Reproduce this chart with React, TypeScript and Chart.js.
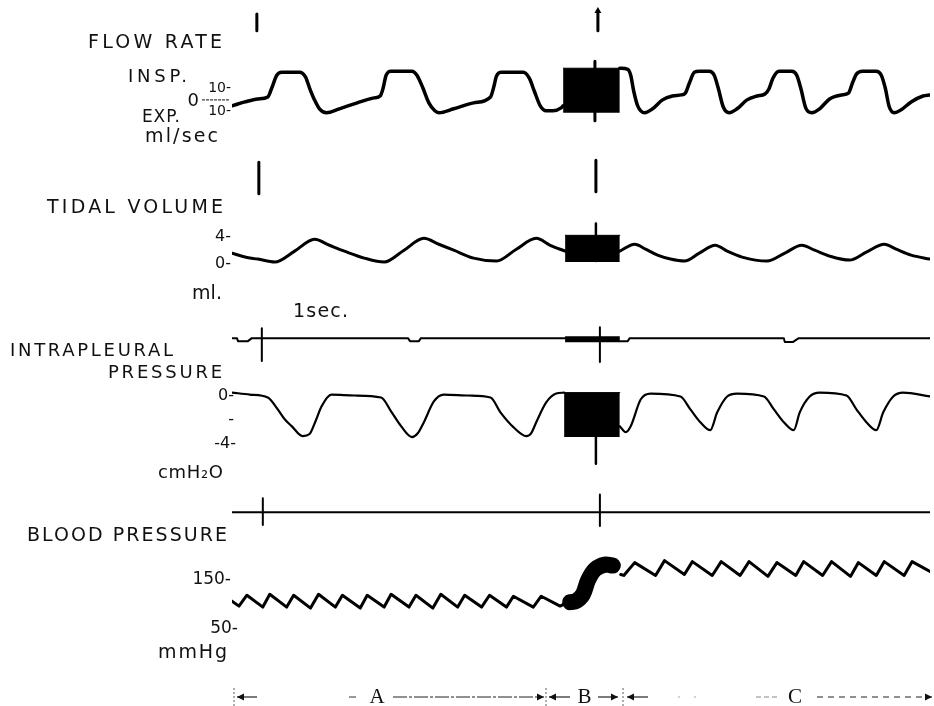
import React, { useEffect, useRef } from 'react';
import { Chart, registerables } from 'chart.js';

Chart.register(...registerables);

type P = [number, number];
type Mark = [number, number, number]; // time, top value, bottom value

// time axis: seconds from start of record
const timeStart = 0;
const timeEnd = 7.02;

// ---------- FLOW RATE (ml/sec, + = inspiration) ----------
const flowPhaseA: P[] = [
  [0.00, -5.0], [0.13, -1.7], [0.26, 0.8], [0.36, 2.5], [0.40, 10.0], [0.45, 20.8], [0.50, 23.3],
  [0.68, 23.3], [0.74, 19.2], [0.78, 10.0], [0.83, 0], [0.88, -7.5], [0.95, -10.8], [1.08, -7.5],
  [1.26, -2.5], [1.43, 1.7], [1.49, 3.3], [1.52, 10.0], [1.55, 20.8], [1.60, 24.2], [1.81, 24.2],
  [1.86, 20.8], [1.92, 10.0], [1.98, -2.5], [2.04, -9.2], [2.08, -10.8], [2.23, -7.5], [2.43, -2.5],
  [2.60, 2.5], [2.63, 10.0], [2.66, 20.0], [2.71, 23.3], [2.93, 23.3], [2.99, 18.3], [3.04, 7.5],
  [3.10, -5.0], [3.16, -9.2], [3.23, -9.2], [3.31, -6.7], [3.33, -5.0],
];
const flowBurst: P[] = [[3.33, 26.7], [3.90, 26.7]];
const flowBurstFloor = -10.8;
const flowPhaseC: P[] = [
  [3.90, 26.7], [3.98, 25.8], [4.01, 20.8], [4.04, 7.5], [4.08, -5.0], [4.15, -10.8], [4.23, -7.5],
  [4.33, 0], [4.43, 3.3], [4.52, 4.2], [4.56, 5.8], [4.60, 14.2], [4.65, 23.3], [4.70, 24.2],
  [4.80, 24.2], [4.85, 20.8], [4.89, 10.0], [4.94, -5.8], [5.00, -10.8], [5.08, -7.5], [5.18, 0],
  [5.28, 3.3], [5.36, 5.0], [5.40, 9.2], [5.44, 18.3], [5.50, 24.2], [5.63, 24.2], [5.68, 20.8],
  [5.72, 10.0], [5.77, -6.7], [5.83, -10.8], [5.91, -7.5], [6.01, 0.8], [6.13, 4.2], [6.20, 5.8],
  [6.24, 14.2], [6.28, 21.7], [6.34, 24.2], [6.48, 24.2], [6.53, 20.8], [6.57, 10.0], [6.61, -5.8],
  [6.66, -10.8], [6.73, -8.3], [6.83, -1.7], [6.95, 3.3], [7.02, 4.2],
];
const flowTickValues = [10, -10];
const flowTickLabels = ['10-', '10-'];
const flowMarks: Mark[] = [
  [0.25, 72.5, 58.3], [3.68, 75.0, 58.3], [3.65, 32.5, -17.5], [0.27, -52.5, -79.2], [3.66, -50.8, -77.5],
];
const flowArrowHead: P[] = [[3.68, 75.0]];

// ---------- TIDAL VOLUME (ml) ----------
const volumePhaseA: P[] = [
  [0.00, 1.63], [0.13, 1.04], [0.26, 0.74], [0.43, 0.30], [0.63, 1.93], [0.83, 3.70], [0.98, 2.81],
  [1.13, 1.93], [1.33, 0.89], [1.53, 0.30], [1.73, 2.07], [1.93, 3.85], [2.08, 2.96], [2.23, 2.07],
  [2.43, 0.89], [2.66, 0.44], [2.86, 2.22], [3.06, 3.85], [3.20, 2.81], [3.35, 1.93],
];
const volumeBurst: P[] = [[3.35, 4.3], [3.90, 4.3]];
const volumeBurstFloor = 0.3;
const volumePhaseC: P[] = [
  [3.90, 1.93], [4.05, 2.96], [4.16, 2.22], [4.28, 1.33], [4.41, 0.74], [4.55, 0.44], [4.70, 1.63],
  [4.86, 2.81], [4.98, 1.93], [5.13, 1.04], [5.38, 0.44], [5.56, 1.63], [5.73, 2.81], [5.86, 2.07],
  [6.01, 1.19], [6.21, 0.59], [6.38, 1.78], [6.56, 2.96], [6.68, 2.22], [6.83, 1.33], [7.02, 0.74],
];
const volumeTickValues = [4, 0];
const volumeTickLabels = ['4-', '0-'];
const volumeMarks: Mark[] = [[3.66, 6.07, 0.44]];

// ---------- TIME BASE (signal line, arbitrary units) ----------
const timeLineA: P[] = [
  [0.00, 0], [0.05, 0], [0.06, -3], [0.16, -3], [0.20, 0], [1.77, 0], [1.79, -3], [1.88, -3], [1.90, 0], [3.35, 0],
];
const timeBurst: P[] = [[3.35, -1], [3.90, -1]];
const timeLineC: P[] = [
  [3.90, -3], [3.98, -3], [4.00, 0], [5.55, 0], [5.56, -4], [5.64, -4], [5.70, 0], [7.02, 0],
];
const timeMarks: Mark[] = [[0.30, 10, -23], [3.70, 11, -24]];

// ---------- INTRAPLEURAL PRESSURE (cmH2O) ----------
const pleuralPhaseA: P[] = [
  [0.00, 0.24], [0.18, 0.08], [0.36, -0.16], [0.46, -1.14], [0.53, -1.96], [0.60, -2.53], [0.71, -3.35],
  [0.78, -3.18], [0.84, -2.12], [0.90, -0.90], [1.00, 0.08], [1.23, 0], [1.50, -0.16], [1.60, -1.31],
  [1.70, -2.53], [1.81, -3.43], [1.87, -3.10], [1.93, -2.20], [2.03, -0.49], [2.13, 0.08], [2.38, 0],
  [2.60, -0.16], [2.70, -1.39], [2.83, -2.61], [2.96, -3.35], [3.01, -3.10], [3.06, -2.20], [3.16, -0.57],
  [3.26, 0.16], [3.34, 0.24],
];
const pleuralBurst: P[] = [[3.34, 0.24], [3.90, 0.24]];
const pleuralBurstFloor = -3.43;
const pleuralPhaseC: P[] = [
  [3.90, -2.53], [3.96, -3.02], [4.01, -2.53], [4.11, -0.33], [4.21, 0.16], [4.51, -0.08], [4.61, -1.14],
  [4.71, -2.20], [4.81, -2.86], [4.88, -1.39], [4.98, -0.08], [5.08, 0.16], [5.35, -0.08], [5.45, -1.14],
  [5.55, -2.20], [5.65, -2.86], [5.71, -1.39], [5.81, -0.08], [5.91, 0.24], [6.18, 0], [6.28, -1.14],
  [6.38, -2.20], [6.48, -2.86], [6.55, -1.39], [6.65, -0.08], [6.75, 0.24], [7.02, -0.08],
];
const pleuralTickValues = [0, -2, -4];
const pleuralTickLabels = ['0-', '-', '-4-'];
const pleuralMarks: Mark[] = [[3.66, 0, -5.63]];

// ---------- EVENT SIGNAL LINE ----------
const signalLine: P[] = [[0.00, 0], [7.02, 0]];
const signalMarks: Mark[] = [[0.31, 14, -13], [3.70, 18, -14]];

// ---------- BLOOD PRESSURE (mmHg) ----------
const bpPhaseA: P[] = [
  [0.00, 106], [0.07, 96], [0.15, 118], [0.31, 94], [0.38, 120], [0.55, 94], [0.62, 118], [0.79, 92],
  [0.87, 120], [1.04, 94], [1.11, 118], [1.29, 92], [1.36, 118], [1.53, 94], [1.60, 120], [1.78, 94],
  [1.85, 118], [2.02, 92], [2.10, 120], [2.27, 94], [2.34, 118], [2.51, 94], [2.59, 118], [2.76, 94],
  [2.83, 116], [3.03, 94], [3.11, 116], [3.30, 96], [3.36, 102],
];
const bpBurst: P[] = [[3.40, 104], [3.46, 106], [3.53, 120], [3.58, 148], [3.65, 170], [3.75, 180], [3.83, 178]];
const bpPhaseC: P[] = [
  [3.91, 160], [3.94, 158], [4.05, 184], [4.26, 158], [4.35, 188], [4.55, 160], [4.63, 186], [4.83, 158],
  [4.92, 186], [5.11, 158], [5.20, 186], [5.39, 156], [5.48, 184], [5.67, 158], [5.75, 186], [5.94, 158],
  [6.03, 186], [6.22, 156], [6.30, 184], [6.48, 158], [6.56, 186], [6.76, 158], [6.84, 186], [7.02, 166],
];
const bpTickValues = [150, 50];
const bpTickLabels = ['150-', '50-'];

// ---------------------------------------------------------
const pts = (a: P[]) => a.map(([x, y]) => ({ x, y }));
const segs = (m: Mark[]) => m.flatMap(([t, a, b]) => [{ x: t, y: a }, { x: t, y: b }, { x: t, y: null as any }]);

const base = (data: any[], yAxisID: string, borderWidth: number, extra: any = {}) => ({
  data,
  yAxisID,
  xAxisID: 'x',
  borderColor: '#000',
  backgroundColor: '#000',
  borderWidth,
  pointRadius: 0,
  fill: false,
  tension: 0,
  borderJoinStyle: 'round',
  borderCapStyle: 'round',
  ...extra,
});
const smooth = { tension: 0.4, cubicInterpolationMode: 'monotone' };

const labelPlugin = {
  id: 'tracingLabels',
  afterDatasetsDraw(chart: any) {
    const ctx: CanvasRenderingContext2D = chart.ctx;
    const s = chart.scales;
    ctx.save();
    ctx.fillStyle = '#111';
    ctx.strokeStyle = '#111';
    ctx.textBaseline = 'middle';
    const fit = (text: string, x0: number, x1: number, y: number, size: number, family = 'DejaVu Sans') => {
      ctx.font = `${size}px "${family}"`;
      (ctx as any).letterSpacing = '0px';
      const w = ctx.measureText(text).width;
      const n = Array.from(text).length;
      const sp = n > 1 ? (x1 - x0 - w) / (n - 1) : 0;
      (ctx as any).letterSpacing = `${sp.toFixed(2)}px`;
      ctx.textAlign = 'left';
      ctx.fillText(text, n > 1 ? x0 : (x0 + x1 - w) / 2, y);
      (ctx as any).letterSpacing = '0px';
    };
    const right = (text: string, x1: number, y: number, size: number) => {
      ctx.font = `${size}px "DejaVu Sans"`;
      (ctx as any).letterSpacing = '0px';
      ctx.textAlign = 'right';
      ctx.fillText(text, x1, y);
    };

    // titles and units
    fit('FLOW RATE', 88, 222, 43, 19);
    fit('INSP.', 128, 187, 77, 18);
    fit('EXP.', 142, 180, 118, 17);
    fit('ml/sec', 145, 218, 137, 19);
    fit('TIDAL VOLUME', 47, 223, 208, 19);
    fit('ml.', 192, 222, 294, 19);
    fit('1sec.', 293, 348, 312, 19);
    fit('INTRAPLEURAL', 10, 173, 351, 18);
    fit('PRESSURE', 108, 222, 373, 18);
    fit('cmH\u2082O', 158, 223, 473, 18);
    fit('BLOOD PRESSURE', 27, 227, 536, 19);
    fit('mmHg', 158, 227, 653, 19);

    // ticks
    const yF = s.yFlow, yV = s.yVol, yP = s.yPleural, yB = s.yBP;
    flowTickValues.forEach((v, i) => right(flowTickLabels[i], 231, yF.getPixelForValue(v), 14));
    right('0', 199, yF.getPixelForValue(0) + 1, 18);
    ctx.lineWidth = 1;
    ctx.setLineDash([3, 1]);
    ctx.beginPath();
    ctx.moveTo(202, yF.getPixelForValue(0));
    ctx.lineTo(230, yF.getPixelForValue(0));
    ctx.stroke();
    ctx.setLineDash([]);
    volumeTickValues.forEach((v, i) => right(volumeTickLabels[i], 231, yV.getPixelForValue(v), 16));
    const pleuralRight = [234, 234, 236];
    pleuralTickValues.forEach((v, i) => right(pleuralTickLabels[i], pleuralRight[i], yP.getPixelForValue(v), 16));
    const bpRight = [231, 238];
    bpTickValues.forEach((v, i) => right(bpTickLabels[i], bpRight[i], yB.getPixelForValue(v), 17));

    // bottom phase bar
    const yb = 697;
    ctx.lineWidth = 1.2;
    const vbar = (x: number) => {
      ctx.strokeStyle = '#777';
      ctx.setLineDash([2, 2]);
      ctx.beginPath();
      ctx.moveTo(x, 688);
      ctx.lineTo(x, 706);
      ctx.stroke();
      ctx.setLineDash([]);
    };
    const hline = (x0: number, x1: number, dash: number[], color = '#333') => {
      ctx.strokeStyle = color;
      ctx.setLineDash(dash);
      ctx.beginPath();
      ctx.moveTo(x0, yb);
      ctx.lineTo(x1, yb);
      ctx.stroke();
      ctx.setLineDash([]);
    };
    const head = (x: number, dir: number) => {
      ctx.fillStyle = '#111';
      ctx.beginPath();
      ctx.moveTo(x, yb);
      ctx.lineTo(x - dir * 7, yb - 3.5);
      ctx.lineTo(x - dir * 7, yb + 3.5);
      ctx.closePath();
      ctx.fill();
    };
    const arrow = (x0: number, x1: number, dir: number, dash: number[] = []) => {
      hline(x0, x1, dash, '#222');
      head(dir > 0 ? x1 : x0, dir);
    };
    vbar(234);
    arrow(237, 257, -1);
    hline(349, 356, [], '#555');
    fit('A', 370, 384, yb, 21, 'Liberation Serif');
    arrow(393, 544, 1, [14, 2, 3, 2]);
    vbar(546);
    arrow(549, 570, -1);
    fit('B', 577, 592, yb, 21, 'Liberation Serif');
    arrow(598, 618, 1);
    vbar(623);
    arrow(627, 648, -1);
    hline(678, 700, [2, 14], '#aaa');
    hline(756, 778, [5, 3], '#888');
    fit('C', 788, 802, yb, 21, 'Liberation Serif');
    arrow(817, 932, 1, [6, 5]);
    ctx.restore();
  },
};

export default function App() {
  const ref = useRef<HTMLCanvasElement>(null);
  useEffect(() => {
    if (!ref.current) return;
    const datasets: any[] = [
      // flow
      base(pts(flowPhaseA), 'yFlow', 3.5, smooth),
      base(pts(flowBurst), 'yFlow', 1, { fill: { value: flowBurstFloor } }),
      base(pts(flowPhaseC), 'yFlow', 3.5, smooth),
      base(segs(flowMarks), 'yFlow', 3, { borderCapStyle: 'butt' }),
      base(pts(flowArrowHead), 'yFlow', 0, { showLine: false, pointRadius: 4, pointStyle: 'triangle', pointBackgroundColor: '#000' }),
      // volume
      base(pts(volumePhaseA), 'yVol', 3, smooth),
      base(pts(volumeBurst), 'yVol', 1, { fill: { value: volumeBurstFloor } }),
      base(pts(volumePhaseC), 'yVol', 3, smooth),
      base(segs(volumeMarks), 'yVol', 2.5, { borderCapStyle: 'butt' }),
      // time base
      base(pts(timeLineA), 'yTime', 2),
      base(pts(timeBurst), 'yTime', 6, { borderCapStyle: 'butt' }),
      base(pts(timeLineC), 'yTime', 2),
      base(segs(timeMarks), 'yTime', 2, { borderCapStyle: 'butt' }),
      // pleural
      base(pts(pleuralPhaseA), 'yPleural', 2.2, smooth),
      base(pts(pleuralBurst), 'yPleural', 1, { fill: { value: pleuralBurstFloor } }),
      base(pts(pleuralPhaseC), 'yPleural', 2.2, smooth),
      base(segs(pleuralMarks), 'yPleural', 2.5, { borderCapStyle: 'butt' }),
      // signal line
      base(pts(signalLine), 'ySignal', 2, { borderCapStyle: 'butt' }),
      base(segs(signalMarks), 'ySignal', 2, { borderCapStyle: 'butt' }),
      // blood pressure
      base(pts(bpPhaseA), 'yBP', 3),
      base(pts(bpBurst), 'yBP', 16, { tension: 0.3 }),
      base(pts(bpPhaseC), 'yBP', 3),
    ];
    const hidden = { display: false };
    const chart = new Chart(ref.current, {
      type: 'line',
      data: { datasets },
      options: {
        animation: false,
        responsive: false,
        maintainAspectRatio: false,
        devicePixelRatio: 1,
        layout: { padding: { left: 232, right: 0, top: 0, bottom: 0 } },
        plugins: { legend: { display: false }, tooltip: { enabled: false } },
        events: [],
        scales: {
          x: { type: 'linear', min: timeStart, max: timeEnd, ...hidden },
          yFlow: { type: 'linear', position: 'left', min: -507.5, max: 80.833, ...hidden },
          yVol: { type: 'linear', position: 'left', min: -65.63, max: 38.963, ...hidden },
          yTime: { type: 'linear', position: 'left', min: -368, max: 338, ...hidden },
          yPleural: { type: 'linear', position: 'left', min: -25.306, max: 32.327, ...hidden },
          ySignal: { type: 'linear', position: 'left', min: -192, max: 514, ...hidden },
          yBP: { type: 'linear', position: 'left', min: -98, max: 1314, ...hidden },
        },
      } as any,
      plugins: [labelPlugin],
    });
    return () => chart.destroy();
  }, []);
  return (
    <div style={{ position: 'absolute', left: 0, top: 0, width: 934, height: 706, background: '#fff' }}>
      <canvas ref={ref} width={934} height={706} style={{ display: 'block', width: 934, height: 706 }} />
    </div>
  );
}
